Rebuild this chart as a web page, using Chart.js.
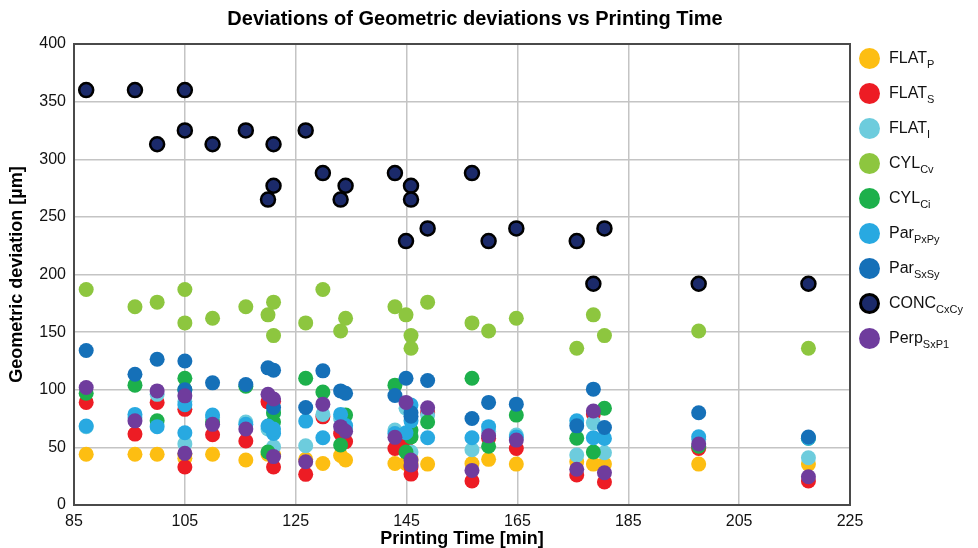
<!DOCTYPE html>
<html>
<head>
<meta charset="utf-8">
<script src="https://cdn.jsdelivr.net/npm/chart.js@4.4.0/dist/chart.umd.min.js"></script>
<style>
    body { margin: 0; background: #fff; font-family: "Liberation Sans", Arial, sans-serif; }
    #wrap { position: relative; width: 978px; height: 548px; }
    #legend { position: absolute; left: 856px; top: 46px; margin: 0; padding: 0; list-style: none; }
    #legend li { position: relative; height: 35px; font-size: 16px; color: #111; white-space: nowrap; }
    #legend .dot { position: absolute; left: 3px; top: 2px; width: 21px; height: 21px; border-radius: 50%; box-sizing: border-box; }
    #legend .txt { position: absolute; left: 33px; top: 3px; }
    #legend sub { font-size: 11px; vertical-align: -5px; line-height: 0; }
</style>
</head>
<body>
<div id="wrap">
    <canvas id="scatterChart" width="978" height="548"></canvas>
    <ul id="legend"></ul>
</div>
<script>
// Printing time of each sample (min)
const times = [87.2, 96, 100, 105, 105, 110, 116, 120, 121, 121, 126.8, 129.9, 133.1, 134, 142.9, 144.9, 145.8, 145.8, 148.8, 156.8, 159.8, 164.8, 175.7, 178.7, 180.7, 197.7, 217.5];

// Geometric deviation per feature (µm)
const flatP = [44, 44, 44, 40.5, 44, 44, 39, 44, 43, 44, 39.6, 36, 43, 39, 36, 36, 36, 40, 35.5, 36, 39.6, 35.5, 37.5, 35.5, 35.5, 35.5, 35.5];
const flatS = [89, 61.5, 89, 83, 33, 61, 55.5, 89.5, 33, 90, 26.6, 76.5, 62, 55, 49, 55, 26.8, 33, 80, 20.8, 58, 49, 26, 79, 20, 49, 20.8];
const flatI = [68, 76, 96, 53, 90, 76, 72, 66, 50.5, 80, 51.4, 78.6, 75, 66, 65, 84, 46, 60, 78, 48, 64, 60.7, 43.3, 71.3, 45.3, 57, 41];
const cylCv = [187, 172, 176, 187, 158, 162, 172, 165, 176, 147, 158, 187, 151, 162, 172, 165, 147, 136, 176, 158, 151, 162, 136, 165, 147, 151, 136];
const cylCi = [97, 104, 73, 110, 100, 72, 103, 46, 80, 72, 110, 98, 52, 78, 104, 46, 59, 65, 72, 110, 51, 78, 58, 46, 84, 51, 58];
const parPxPy = [68.5, 78.6, 68, 87, 62.7, 78, 70, 68.5, 62, 66, 72.8, 58.3, 78.6, 69, 62, 62.7, 86.7, 73, 58.3, 58.3, 68, 59, 73, 58.3, 57.8, 59.2, 58];
const parSxSy = [134, 113.5, 126.5, 125, 100, 106, 104.6, 119, 117, 84.6, 84.6, 116.4, 99, 97, 95, 110, 77, 80, 108, 75, 89, 87.5, 68.7, 100.5, 67.3, 80, 59];
const concCxCy = [360, 360, 313, 360, 325, 313, 325, 265, 313, 277, 325, 288, 265, 277, 288, 229, 277, 265, 240, 288, 229, 240, 229, 192, 240, 192, 192];
const perpSxP1 = [102, 73, 99, 94.7, 44.8, 70, 66, 96, 92, 42, 37.5, 87.5, 68, 64, 58.7, 89, 39, 34.7, 84.3, 30, 60, 56.3, 31, 81.5, 28, 52.9, 24.5];

const xTicks = [85, 105, 125, 145, 165, 185, 205, 225];
const yTicks = [0, 50, 100, 150, 200, 250, 300, 350, 400];

const series = [
    { name: "FLAT", sub: "P", values: flatP, color: "#FDBE12" },
    { name: "FLAT", sub: "S", values: flatS, color: "#ED1C24" },
    { name: "FLAT", sub: "I", values: flatI, color: "#6DCCDD" },
    { name: "CYL", sub: "Cv", values: cylCv, color: "#8DC63F" },
    { name: "CYL", sub: "Ci", values: cylCi, color: "#1DB04B" },
    { name: "Par", sub: "PxPy", values: parPxPy, color: "#28A9E1" },
    { name: "Par", sub: "SxSy", values: parSxSy, color: "#1570B8" },
    { name: "CONC", sub: "CxCy", values: concCxCy, color: "#1B2A6A", border: "#000000" },
    { name: "Perp", sub: "SxP1", values: perpSxP1, color: "#6F3C9D" },
];

const datasets = series.map((s, i) => ({
    label: s.name + s.sub,
    data: times.map((t, j) => ({ x: t, y: s.values[j] })),
    backgroundColor: s.color,
    borderColor: s.border || s.color,
    borderWidth: s.border ? 2.5 : 0,
    pointRadius: s.border ? 7 : 7.5,
    order: series.length - i,
}));

// HTML legend (subscripts)
const legendEl = document.getElementById("legend");
series.forEach((s) => {
    const li = document.createElement("li");
    const border = s.border ? "border:3px solid " + s.border + ";" : "";
    li.innerHTML = '<span class="dot" style="background:' + s.color + ";" + border + '"></span>' +
        '<span class="txt">' + s.name + "<sub>" + s.sub + "</sub></span>";
    legendEl.appendChild(li);
});

// frame + title
const framePlugin = {
    id: "frame",
    afterDraw(chart) {
        const { ctx, chartArea: a } = chart;
        ctx.save();
        ctx.strokeStyle = "#4a4a4a";
        ctx.lineWidth = 2;
        ctx.strokeRect(a.left, a.top, a.right - a.left, a.bottom - a.top);
        ctx.fillStyle = "#000";
        ctx.font = "bold 20px 'Liberation Sans', Arial, sans-serif";
        ctx.textAlign = "center";
        ctx.textBaseline = "middle";
        ctx.fillText("Deviations of Geometric deviations vs Printing Time", 475, 19);
        ctx.restore();
    },
};

const tickFont = { family: "'Liberation Sans', Arial, sans-serif", size: 16 };
const titleFont = { family: "'Liberation Sans', Arial, sans-serif", size: 18, weight: "bold", lineHeight: 1.0 };

new Chart(document.getElementById("scatterChart"), {
    type: "scatter",
    data: { datasets: datasets },
    options: {
        responsive: false,
        animation: false,
        layout: { padding: { left: 0, right: 128, top: 44, bottom: 0 } },
        plugins: {
            legend: { display: false },
            tooltip: { enabled: false },
        },
        elements: { point: { hoverRadius: 7 } },
        scales: {
            x: {
                type: "linear",
                min: 85,
                max: 225,
                afterBuildTicks: (s) => { s.ticks = xTicks.map((v) => ({ value: v })); },
                afterFit: (s) => { s.height = 43; },
                ticks: { font: tickFont, color: "#111", padding: 7 },
                grid: { color: "#c4c4c4", lineWidth: 1.5, drawTicks: false },
                border: { display: false },
                title: { display: true, text: "Printing Time [min]", font: titleFont, color: "#000", padding: { top: 0, bottom: 0 } },
            },
            y: {
                type: "linear",
                min: 0,
                max: 400,
                afterBuildTicks: (s) => { s.ticks = yTicks.map((v) => ({ value: v })); },
                afterFit: (s) => { s.width = 74; },
                ticks: { font: tickFont, color: "#111", padding: 8 },
                grid: { color: "#c4c4c4", lineWidth: 1.5, drawTicks: false },
                border: { display: false },
                title: { display: true, text: "Geometric deviation [µm]", font: { family: "'Liberation Sans', Arial, sans-serif", size: 18, weight: "bold" }, color: "#000", padding: { top: 6, bottom: 0 } },
            },
        },
    },
    plugins: [framePlugin],
});
</script>
</body>
</html>
